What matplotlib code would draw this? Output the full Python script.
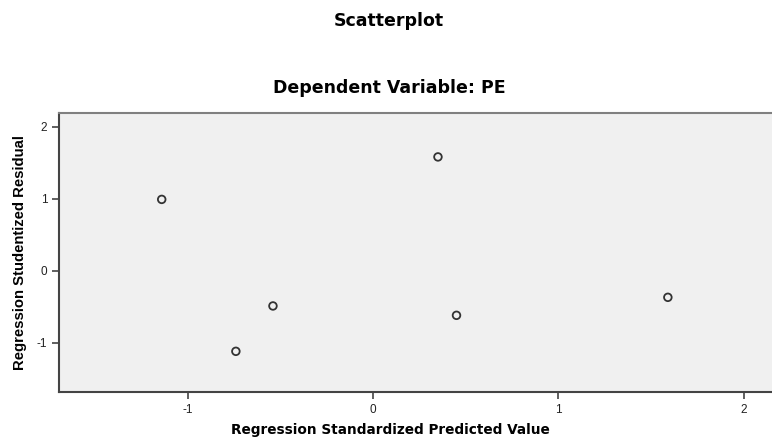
import matplotlib
matplotlib.use("Agg")
import matplotlib.pyplot as plt

predicted = [-1.14, 0.35, -0.54, -0.74, 0.45, 1.59]
residual = [0.99, 1.58, -0.49, -1.12, -0.62, -0.37]

xticks = [-1, 0, 1, 2]
yticks = [-1, 0, 1, 2]

plt.rcParams['font.family'] = ['Liberation Sans', 'DejaVu Sans']
plt.rcParams['axes.unicode_minus'] = False

fig = plt.figure(figsize=(7.72, 4.37), dpi=100)
ax = fig.add_axes([59 / 772, 1 - 392 / 437, 1 - 59 / 772 + 0.02, (392 - 113) / 437])
ax.set_facecolor('#f0f0f0')

ax.scatter(predicted, residual, s=30, facecolors='none', edgecolors='#333333',
           linewidths=1.3, zorder=3)

ax.set_xlim(-1.694, 2.235)
ax.set_ylim(-1.685, 2.19)
ax.set_xticks(xticks)
ax.set_yticks(yticks)
ax.tick_params(direction='out', length=5, width=1.2, colors='#444444',
               labelsize=8.5, labelcolor='#222222')

for side in ['left', 'bottom']:
    ax.spines[side].set_color('#444444')
    ax.spines[side].set_linewidth(1.5)
ax.spines['top'].set_color('#808080')
ax.spines['top'].set_linewidth(1.5)
ax.spines['right'].set_visible(False)

ax.set_xlabel('Regression Standardized Predicted Value', fontsize=9.8,
              fontweight='bold', family=['DejaVu Sans'], va='center')
ax.xaxis.set_label_coords(390 / 772, 1 - 430 / 437, transform=fig.transFigure)
ax.set_ylabel('Regression Studentized Residual', fontsize=10.7, fontweight='bold',
              va='center')
ax.yaxis.set_label_coords(20 / 772, 1 - 253 / 437, transform=fig.transFigure)

fig.text(389 / 772, 1 - 21 / 437, 'Scatterplot', ha='center', va='center',
         fontsize=12.5, fontweight='bold', family=['DejaVu Sans'])
fig.text(389 / 772, 1 - 88 / 437, 'Dependent Variable: PE', ha='center',
         va='center', fontsize=12.5, fontweight='bold', family=['DejaVu Sans'])

fig.savefig('out.png', dpi=100)
